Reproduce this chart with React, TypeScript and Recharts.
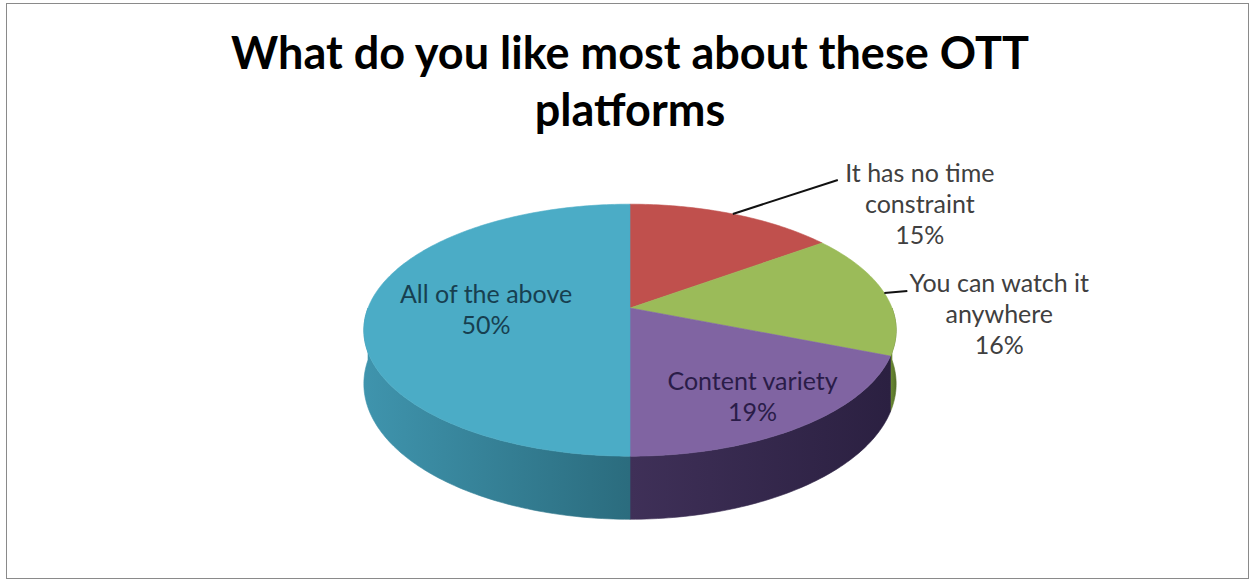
import { PieChart, Pie } from 'recharts'

const categories = ['It has no time\nconstraint', 'You can watch it\nanywhere', 'Content variety', 'All of the above']
const shares = [15, 16, 19, 50]
const topColors = ['#c0504d', '#9bbb59', '#8064a2', '#4bacc6']
const sideColors = [['#a04340', '#8a3633'], ['#6b8a33', '#56702a'], ['#3f3058', '#2b2041'], ['#3f94ad', '#2b6c7e']]
const labelInk = ['#404040', '#404040', '#2a1c48', '#173f50']

// label placement: out = leader line from the rim, in = text on the slice
const labelLayout = [
  { out: true, ex: 105, ey: -34, tx: 82, ty: 2 },
  { out: true, ex: 23, ey: -2, tx: 92, ty: 1 },
  { out: false, ex: 0, ey: 0, tx: 15, ty: 8 },
  { out: false, ex: 0, ey: 0, tx: 29, ty: -5 },
]

const data = categories.map((name, i) => ({ name, value: shares[i] }))

const W = 1251
const H = 581
const CX = 630
const CY = 308
const R = 262
const TILT = 0.466
const PERSP = 0.176
const DEPTH = 52
const FONT = 'Lato, "Open Sans", sans-serif'

// tilted disc with a little perspective, angle in recharts degrees
const proj = (cx: number, cy: number, r: number, deg: number, k = 1, drop = 0) => {
  const t = (deg * Math.PI) / 180
  const X = k * Math.cos(t)
  const Z = -k * Math.sin(t)
  const w = 1 - PERSP * Z
  return [cx + (r * X) / w, cy + (r * TILT * Z + drop) / w]
}

const arc = (cx: number, cy: number, r: number, a0: number, a1: number, drop = 0) => {
  const n = Math.max(2, Math.ceil(Math.abs(a1 - a0)) + 1)
  const pts: number[][] = []
  for (let i = 0; i < n; i++) pts.push(proj(cx, cy, r, a0 + ((a1 - a0) * i) / (n - 1), 1, drop))
  return pts
}

const toPath = (pts: number[][]) => pts.map((p, i) => `${i ? 'L' : 'M'}${p[0].toFixed(2)},${p[1].toFixed(2)}`).join('') + 'Z'

const SideFace = (p: any) => {
  const hi = Math.min(p.startAngle, 0)
  const lo = Math.max(p.endAngle, -180)
  if (lo >= hi) return <g />
  const top = arc(p.cx, p.cy, p.outerRadius, hi, lo)
  const bottom = arc(p.cx, p.cy, p.outerRadius, lo, hi, DEPTH)
  const id = `side-${p.index}`
  return (
    <g>
      <defs>
        <linearGradient id={id} x1="0" x2="1" y1="0" y2="0">
          <stop offset="0%" stopColor={sideColors[p.index][0]} />
          <stop offset="100%" stopColor={sideColors[p.index][1]} />
        </linearGradient>
      </defs>
      <path d={toPath([...top, ...bottom])} fill={`url(#${id})`} stroke={`url(#${id})`} strokeWidth={0.6} />
    </g>
  )
}

const TopFace = (p: any) => {
  const pts = [[p.cx, p.cy], ...arc(p.cx, p.cy, p.outerRadius, p.startAngle, p.endAngle)]
  return <path d={toPath(pts)} fill={topColors[p.index]} stroke={topColors[p.index]} strokeWidth={0.6} />
}

const SliceLabel = (p: any) => {
  const lay = labelLayout[p.index]
  const lines = [...String(p.name).split('\n'), `${p.value}%`]
  const color = labelInk[p.index]
  let ax: number
  let ay: number
  let leader = null
  if (lay.out) {
    const [x0, y0] = proj(p.cx, p.cy, p.outerRadius, p.midAngle)
    ax = x0 + lay.ex
    ay = y0 + lay.ey
    leader = <polyline points={`${x0},${y0} ${ax},${ay}`} fill="none" stroke="#111" strokeWidth={2} />
  } else {
    ;[ax, ay] = proj(p.cx, p.cy, p.outerRadius, p.midAngle, 0.66)
  }
  return (
    <g>
      {leader}
      <text x={ax + lay.tx} y={ay + lay.ty} textAnchor="middle" fontFamily={FONT} fontSize={25} fill={color}>
        {lines.map((l, i) => (
          <tspan key={i} x={ax + lay.tx} dy={i ? 31 : 0}>{l}</tspan>
        ))}
      </text>
    </g>
  )
}

export default function App() {
  return (
    <div style={{ position: 'relative', width: W, height: H, background: '#fff' }}>
      <style>{'body{margin:0}'}</style>
      <div style={{ position: 'absolute', left: 6, top: 3, width: 1243, height: 576, border: '1.5px solid #8a8a8a', boxSizing: 'border-box' }} />
      <svg width={W} height={140} style={{ position: 'absolute', left: 0, top: 0 }}>
        <text x={630} y={69} textAnchor="middle" fontFamily={FONT} fontWeight={700} fontSize={45} fill="#000">
          What do you like most about these OTT
        </text>
        <text x={630} y={126} textAnchor="middle" fontFamily={FONT} fontWeight={700} fontSize={45} fill="#000">
          platforms
        </text>
      </svg>
      <div style={{ position: 'absolute', left: 0, top: 0 }}>
        <PieChart width={W} height={H} margin={{ top: 0, right: 0, bottom: 0, left: 0 }}>
          <Pie data={data} dataKey="value" nameKey="name" cx={CX} cy={CY} outerRadius={R} startAngle={90} endAngle={-270}
            fill="transparent" stroke="none" label={SideFace} labelLine={false} isAnimationActive={false} />
          <Pie data={data} dataKey="value" nameKey="name" cx={CX} cy={CY} outerRadius={R} startAngle={90} endAngle={-270}
            fill="transparent" stroke="none" label={TopFace} labelLine={false} isAnimationActive={false} />
          <Pie data={data} dataKey="value" nameKey="name" cx={CX} cy={CY} outerRadius={R} startAngle={90} endAngle={-270}
            fill="transparent" stroke="none" label={SliceLabel} labelLine={false} isAnimationActive={false} />
        </PieChart>
      </div>
    </div>
  )
}
